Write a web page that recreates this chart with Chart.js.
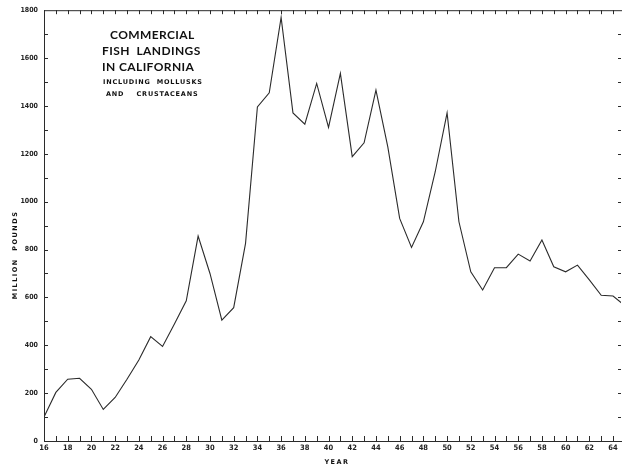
<!DOCTYPE html>
<html>
<head>
<meta charset="UTF-8">
<title>Commercial Fish Landings in California</title>
<script src="https://cdn.jsdelivr.net/npm/chart.js@4.4.0/dist/chart.umd.min.js"></script>
<style>
  html, body { margin: 0; padding: 0; background: #fff; }
  #wrap { width: 622px; height: 467px; }
</style>
</head>
<body>
<div id="wrap"><canvas id="fishChart" width="622" height="467"></canvas></div>
<script>
// years 1916 - 1965 (two-digit labels as on the original)
var years = [16, 17, 18, 19, 20, 21, 22, 23, 24, 25,
             26, 27, 28, 29, 30, 31, 32, 33, 34, 35,
             36, 37, 38, 39, 40, 41, 42, 43, 44, 45,
             46, 47, 48, 49, 50, 51, 52, 53, 54, 55,
             56, 57, 58, 59, 60, 61, 62, 63, 64, 65];

// million pounds
var landings = [100, 203, 258, 262, 216, 132, 182, 258, 338, 436,
                395, 489, 586, 856, 700, 505, 557, 826, 1396, 1455,
                1770, 1371, 1324, 1494, 1310, 1536, 1188, 1246, 1466, 1229,
                930, 809, 916, 1125, 1371, 916, 707, 631, 724, 724,
                781, 752, 840, 728, 707, 735, 673, 609, 606, 565];

var titleLines = ['COMMERCIAL', 'FISH  LANDINGS', 'IN CALIFORNIA'];
var subLines = ['INCLUDING  MOLLUSKS', 'AND    CRUSTACEANS'];

var ink = '#2b2b2b';

// frame, inward ticks and the lettering
var decor = {
  id: 'decor',
  afterDraw: function(chart) {
    var ctx = chart.ctx, a = chart.chartArea;
    var xs = chart.scales.x, ys = chart.scales.y;
    ctx.save();
    ctx.strokeStyle = ink;
    ctx.lineWidth = 1;
    // top border line
    ctx.beginPath();
    ctx.moveTo(a.left, a.top + 0.5);
    ctx.lineTo(622, a.top + 0.5);
    ctx.stroke();
    // year ticks, bottom and top
    ctx.beginPath();
    for (var yr = 16; yr <= 64; yr++) {
      var px = Math.round(xs.getPixelForValue(yr)) + 0.5;
      ctx.moveTo(px, a.bottom); ctx.lineTo(px, a.bottom - 5);
      ctx.moveTo(px, a.top); ctx.lineTo(px, a.top + 4);
    }
    // value ticks, left and right
    for (var v = 100; v < 1800; v += 100) {
      var py = Math.round(ys.getPixelForValue(v)) + 0.5;
      ctx.moveTo(a.left, py); ctx.lineTo(a.left + 4, py);
      ctx.moveTo(a.right - 3, py); ctx.lineTo(a.right, py);
    }
    ctx.stroke();

    ctx.fillStyle = '#111';
    ctx.textAlign = 'left';
    ctx.textBaseline = 'alphabetic';
    ctx.font = 'bold 12px Lato';
    ctx.letterSpacing = '0.4px';
    ctx.fillText(titleLines[0], 110, 39);
    ctx.fillText(titleLines[1], 102, 55);
    ctx.fillText(titleLines[2], 102, 71);
    ctx.font = 'bold 6.5px "DejaVu Sans"';
    ctx.letterSpacing = '0.8px';
    ctx.fillText(subLines[0], 103, 84);
    ctx.fillText(subLines[1], 106, 96);

    // axis titles
    ctx.font = 'bold 6.5px "DejaVu Sans"';
    ctx.letterSpacing = '1.5px';
    ctx.textAlign = 'center';
    ctx.fillText('YEAR', 337, 464);
    ctx.translate(17, 255);
    ctx.rotate(-Math.PI / 2);
    ctx.fillText('MILLION  POUNDS', 0, 0);
    ctx.restore();
  }
};

var points = years.map(function(y, i) { return { x: y, y: landings[i] }; });

new Chart(document.getElementById('fishChart'), {
  type: 'line',
  data: {
    datasets: [{
      label: 'Landings',
      data: points,
      borderColor: ink,
      borderWidth: 1.1,
      pointRadius: 0,
      tension: 0,
      fill: false
    }]
  },
  options: {
    responsive: false,
    animation: false,
    layout: { padding: { top: 9, right: 1, left: 0, bottom: 0 } },
    plugins: { legend: { display: false }, tooltip: { enabled: false } },
    scales: {
      x: {
        type: 'linear',
        min: 16,
        max: 64.67,
        grid: { display: false, drawTicks: false },
        border: { display: true, color: ink, width: 1 },
        afterFit: function(s) { s.height = 26; },
        afterBuildTicks: function(s) {
          var t = [];
          for (var yr = 16; yr <= 64; yr += 2) t.push({ value: yr });
          s.ticks = t;
        },
        ticks: {
          autoSkip: false,
          maxRotation: 0,
          padding: 3,
          color: '#222',
          font: { family: 'DejaVu Sans Condensed', size: 7.5, weight: 'bold' },
          callback: function(v) { return String(v); }
        }
      },
      y: {
        min: 0,
        max: 1800,
        grid: { display: false, drawTicks: false },
        border: { display: true, color: ink, width: 1 },
        afterFit: function(s) { s.width = 44; },
        ticks: {
          stepSize: 200,
          padding: 6,
          color: '#222',
          font: { family: 'DejaVu Sans Condensed', size: 7, weight: 'bold' },
          callback: function(v) { return String(v); }
        }
      }
    }
  },
  plugins: [decor]
});
</script>
</body>
</html>
